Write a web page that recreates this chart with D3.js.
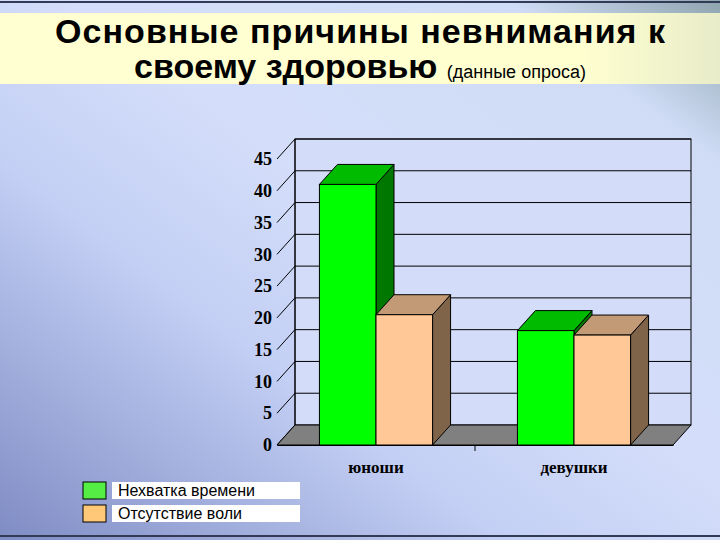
<!DOCTYPE html>
<html><head><meta charset="utf-8">
<script src="https://cdn.jsdelivr.net/npm/d3@7"></script>
<style>body{margin:0;}svg{display:block;}</style>
</head><body>
<svg id="c" width="720" height="540"></svg>
<script>
const categories = ["юноши", "девушки"];
const seriesNames = ["Нехватка времени", "Отсутствие воли"];
const lackOfTime = [41, 18];
const lackOfWill = [20.5, 17.3];
const yTicks = [0, 5, 10, 15, 20, 25, 30, 35, 40, 45];

const svg = d3.select("#c");
const defs = svg.append("defs");
const bg = defs.append("linearGradient").attr("id","bg").attr("x1","0%").attr("y1","100%").attr("x2","100%").attr("y2","0%");
bg.append("stop").attr("offset","0%").attr("stop-color","#7f8cc4");
bg.append("stop").attr("offset","35%").attr("stop-color","#c3cff4");
bg.append("stop").attr("offset","55%").attr("stop-color","#d4defa");
bg.append("stop").attr("offset","85%").attr("stop-color","#d0dcf6");
bg.append("stop").attr("offset","100%").attr("stop-color","#8ea4ae");
svg.append("rect").attr("width",720).attr("height",540).attr("fill","url(#bg)");
svg.append("line").attr("x1",0).attr("x2",720).attr("y1",2).attr("y2",2).attr("stroke","#333a55").attr("stroke-width",2);
svg.append("line").attr("x1",0).attr("x2",720).attr("y1",536).attr("y2",536).attr("stroke","#333a55").attr("stroke-width",2);

const tg = defs.append("linearGradient").attr("id","tb").attr("x1","0%").attr("x2","100%");
tg.append("stop").attr("offset","0%").attr("stop-color","#ffffd2");
tg.append("stop").attr("offset","80%").attr("stop-color","#ffffd0");
tg.append("stop").attr("offset","100%").attr("stop-color","#e8ecc8");
svg.append("rect").attr("x",0).attr("y",13).attr("width",720).attr("height",71).attr("fill","url(#tb)");
svg.append("text").attr("x",360).attr("y",43).attr("text-anchor","middle")
  .attr("font-family","Liberation Sans, Arial").attr("font-weight","bold").attr("font-size",34).attr("textLength",610).text("Основные причины невнимания к");
const t2 = svg.append("text").attr("x",360).attr("y",78).attr("text-anchor","middle")
  .attr("font-family","Liberation Sans, Arial").attr("font-weight","bold").attr("font-size",34);
t2.append("tspan").text("своему здоровью ");
t2.append("tspan").attr("font-size",18).attr("font-weight","normal").text("(данные опроса)");

const dx = 18, dy = -20;
const x0 = 277, x1 = 673;
const y = d3.scaleLinear().domain([0,45]).range([445,159]);
const xb = d3.scaleBand().domain(categories).range([x0,x1]).paddingInner(0).paddingOuter(0);
const xs = d3.scaleBand().domain([0,1]).range([0, xb.bandwidth()]).paddingInner(0).paddingOuter(0.75);

const g = svg.append("g");
g.append("rect").attr("x",x0+dx).attr("y",y(45)+dy).attr("width",x1-x0).attr("height",y(0)-y(45))
  .attr("fill","#d3ddfa").attr("stroke","#000");
yTicks.forEach(t=>{
  if(t>0) g.append("line").attr("x1",x0+dx).attr("x2",x1+dx).attr("y1",y(t)+dy).attr("y2",y(t)+dy).attr("stroke","#000");
  g.append("line").attr("x1",x0).attr("y1",y(t)).attr("x2",x0+dx).attr("y2",y(t)+dy).attr("stroke","#000");
});
g.append("line").attr("x1",x0+dx).attr("x2",x0+dx).attr("y1",y(45)+dy).attr("y2",y(0)+dy).attr("stroke","#000");
g.append("polygon").attr("points",[[x0,y(0)],[x1,y(0)],[x1+dx,y(0)+dy],[x0+dx,y(0)+dy]].map(p=>p.join(",")).join(" "))
  .attr("fill","#808080").attr("stroke","#000");
const yAxis = d3.axisLeft(y).tickValues(yTicks).tickSize(0).tickPadding(5);
const ax = g.append("g").attr("transform",`translate(${x0},0)`).call(yAxis);
ax.select(".domain").remove();
ax.selectAll("text").attr("font-family","Liberation Serif, Times New Roman").attr("font-weight","bold").attr("font-size",18).attr("fill","#000");
const xAxis = d3.axisBottom(xb).tickSize(0).tickPadding(16);
const bx = g.append("g").attr("transform",`translate(0,${y(0)})`).call(xAxis);
bx.select(".domain").attr("stroke","#000");
bx.selectAll("text").attr("font-family","Liberation Serif, Times New Roman").attr("font-weight","bold").attr("font-size",17).attr("fill","#000");
g.append("line").attr("x1",xb.step()+x0).attr("x2",xb.step()+x0).attr("y1",y(0)).attr("y2",y(0)+6).attr("stroke","#000");

const colors = [{front:"#00ff00",top:"#00bb00",side:"#007700"},{front:"#ffc896",top:"#c39a76",side:"#806449"}];
const series = [lackOfTime, lackOfWill];
categories.forEach((c,ci)=>{
  [0,1].forEach(si=>{
    const v = series[si][ci];
    const bx0 = xb(c)+xs(si), w = xs.bandwidth();
    const yt = y(v), yb = y(0), col = colors[si];
    g.append("polygon").attr("points",[[bx0+w,yt],[bx0+w+dx,yt+dy],[bx0+w+dx,yb+dy],[bx0+w,yb]].map(p=>p.join(",")).join(" "))
      .attr("fill",col.side).attr("stroke","#000");
    g.append("polygon").attr("points",[[bx0,yt],[bx0+dx,yt+dy],[bx0+w+dx,yt+dy],[bx0+w,yt]].map(p=>p.join(",")).join(" "))
      .attr("fill",col.top).attr("stroke","#000");
    g.append("rect").attr("x",bx0).attr("y",yt).attr("width",w).attr("height",yb-yt)
      .attr("fill",col.front).attr("stroke","#000");
  });
});

const legColors = ["#55ee44","#ffc878"];
seriesNames.forEach((n,i)=>{
  const yy = 482 + i*23;
  svg.append("rect").attr("x",83).attr("y",yy).attr("width",23).attr("height",17).attr("fill",legColors[i]).attr("stroke","#000");
  svg.append("rect").attr("x",112).attr("y",yy).attr("width",188).attr("height",17).attr("fill","#fff");
  svg.append("text").attr("x",118).attr("y",yy+14).attr("font-family","Liberation Sans, Arial").attr("font-size",16).attr("fill","#000").text(n);
});
</script>
</body></html>
